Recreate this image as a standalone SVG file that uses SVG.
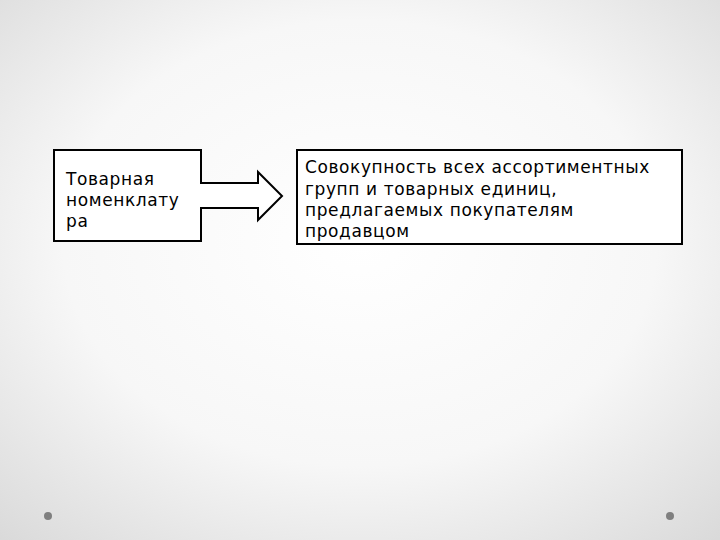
<svg xmlns="http://www.w3.org/2000/svg" width="720" height="540" viewBox="0 0 720 540">
<defs>
<radialGradient id="bg" cx="50%" cy="45%" r="75%">
<stop offset="0" stop-color="#ffffff"/>
<stop offset="0.55" stop-color="#f7f7f7"/>
<stop offset="1" stop-color="#d9d9d9"/>
</radialGradient>
<style>
.shape{fill:#ffffff;stroke:#000000;stroke-width:2}
.t{font-family:"DejaVu Sans",sans-serif;font-size:17px;letter-spacing:0.6px;fill:#000000}
.dot{fill:#7f7f7f}
</style>
</defs>
<rect x="0" y="0" width="720" height="540" fill="url(#bg)"/>
<circle class="dot" cx="48" cy="516" r="4"/>
<circle class="dot" cx="670" cy="516" r="4"/>
<g id="node-nomenclature">
<path class="shape" d="M54,150 H201 V183 H258 V172 L282,196 L258,220 V208 H201 V241 H54 Z"/>
<text class="t" x="66" y="185">Товарная</text>
<text class="t" x="66" y="206">номенклату</text>
<text class="t" x="66" y="227">ра</text>
</g>
<g id="node-definition">
<rect class="shape" x="297" y="150" width="385" height="94"/>
<text class="t" x="305" y="173">Совокупность всех ассортиментных</text>
<text class="t" x="305" y="195">групп и товарных единиц,</text>
<text class="t" x="305" y="216">предлагаемых покупателям</text>
<text class="t" x="305" y="237">продавцом</text>
</g>
<g id="connectors"></g>
</svg>
